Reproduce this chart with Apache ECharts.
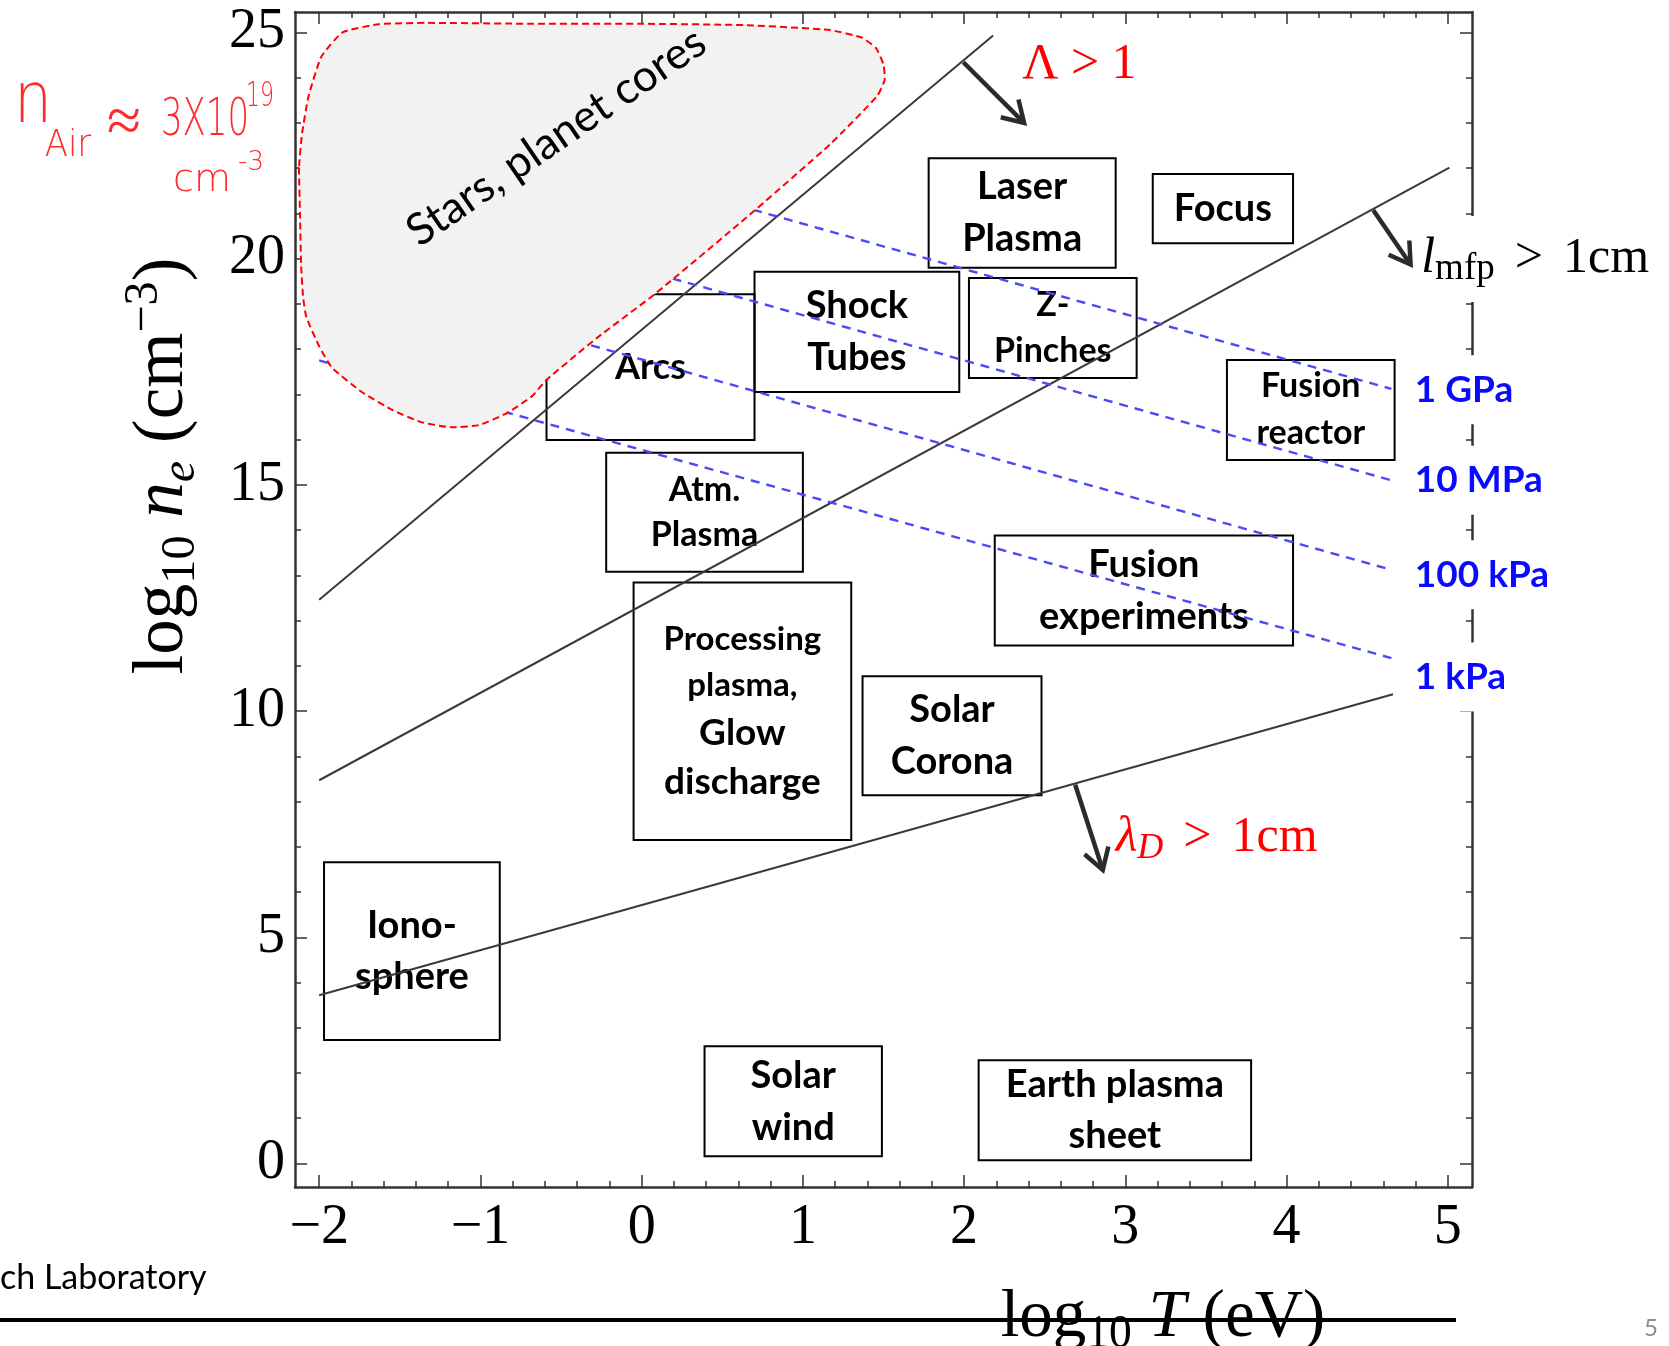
<!DOCTYPE html>
<html><head><meta charset="utf-8">
<script src="https://cdn.jsdelivr.net/npm/echarts@6/dist/echarts.min.js"></script>
<style>html,body{margin:0;padding:0;background:#fff;}#c{width:1669px;height:1346px;}</style>
</head><body><div id="c"></div>
<script>
// ---------- data ----------
const xTickValues = [-2, -1, 0, 1, 2, 3, 4, 5];
const yTickValues = [0, 5, 10, 15, 20, 25];
const xMinorTicks = [];
for (let k = -10; k <= 25; k++) xMinorTicks.push(+(k * 0.2).toFixed(1));
const yMinorTicks = [];
for (let k = 0; k <= 25; k++) yMinorTicks.push(k);

const boxLabels = ['Laser\nPlasma', 'Focus', 'Shock\nTubes', 'Z-\nPinches', 'Arcs', 'Atm.\nPlasma',
  'Processing\nplasma,\nGlow\ndischarge', 'Solar\nCorona', 'Fusion\nreactor', 'Fusion\nexperiments',
  'Iono-\nsphere', 'Solar\nwind', 'Earth plasma\nsheet'];
const boxLeft   = [1.78, 3.17, 0.70, 2.03, -0.59, -0.22, -0.05, 1.37, 3.63, 2.19, -1.97, 0.39, 2.09];
const boxRight  = [2.94, 4.04, 1.97, 3.07, 0.70, 1.00, 1.30, 2.48, 4.67, 4.04, -0.88, 1.49, 3.78];
const boxBottom = [19.80, 20.34, 17.05, 17.36, 15.99, 13.08, 7.15, 8.14, 15.55, 11.45, 2.73, 0.16, 0.07];
const boxTop    = [22.22, 21.87, 19.71, 19.57, 19.21, 15.71, 12.84, 10.77, 17.76, 13.88, 6.66, 2.59, 2.28];

const lambdaLineX = [-2, 2.18];   const lambdaLineY = [12.46, 24.93];
const mfpLineX = [-2, 5.01];      const mfpLineY = [8.47, 22.01];
const debyeLineX = [-2, 0.49, 4.66]; const debyeLineY = [3.72, 6.20, 10.37];

const pressureNames = ['1 GPa', '10 MPa', '100 kPa', '1 kPa'];
const pressureStartX = [0.5, 0.0, -0.6, -2.0];
const pressureStartY = [21.27, 19.75, 18.37, 17.75];
const pressureEndX = [4.65, 4.65, 4.65, 4.65];
const pressureEndY = [17.12, 15.10, 13.12, 11.17];
const pressureLabelX = [4.795, 4.795, 4.795, 4.795];
const pressureLabelY = [17.10, 15.10, 13.01, 10.75];

const starsX = [-2.125, -2.119, -2.112, -2.099, -2.079, -2.0, -1.921, -1.736, -1.544, -1.373, -1.188, -1.009,
  -0.838, -0.679, -0.593, -0.283, 0.080, 0.641, 1.170, 1.460, 1.507, 1.500, 1.454, 1.368, 1.170, 0.641,
  -0.019, -0.679, -1.340, -1.630, -1.855, -1.987, -2.066, -2.106];
const starsY = [22.01, 21.00, 19.83, 19.12, 18.70, 18.06, 17.59, 17.05, 16.65, 16.39, 16.27, 16.32,
  16.58, 16.96, 17.31, 18.23, 19.21, 20.88, 22.53, 23.59, 23.94, 24.29, 24.65, 24.88, 25.05, 25.16,
  25.19, 25.19, 25.21, 25.18, 25.00, 24.46, 23.59, 22.77];
const starsLabel = 'Stars, planet cores';
const starsLabelX = -0.53, starsLabelY = 22.69;

const arrowStartX = [1.995, 4.538, 2.689];
const arrowStartY = [24.34, 21.07, 8.37];
const arrowEndX = [2.372, 4.769, 2.860];
const arrowEndY = [23.00, 19.87, 6.49];

const noteTexts = ['{a|\u039B > 1}', '{i|\u03BB}{s|D}{a|\u2009\u2009>\u2009\u20091cm}', '{i|l}{s|mfp}{a|\u2009\u2009>\u2009\u20091cm}'];
const noteX = [2.36, 2.94, 4.835];
const noteY = [24.29, 7.20, 19.99];

// ---------- styles ----------
const SERIF = 'Liberation Serif';
const SANS = 'Lato';
const boxFont = [38, 38, 38, 34, 36, 34, 0, 38, 34, 38, 38, 38, 38];
const boxLH   = [52, 52, 52, 46, 50, 45, 0, 52, 47, 52, 51, 52, 51];

const chart = echarts.init(document.getElementById('c'), null, {renderer: 'canvas'});

function xAxisCfg(pos, major, showLabel, showLine) {
  return {
    type: 'value', min: -2.15, max: 5.15, position: pos,
    axisLine: {show: showLine, onZero: false, lineStyle: {color: '#333', width: 2.5}},
    axisTick: {show: true, inside: true, length: major ? 12 : 6,
      customValues: major ? xTickValues : xMinorTicks, lineStyle: {color: '#333', width: 1.5}},
    axisLabel: {show: showLabel, customValues: xTickValues, margin: 13, fontFamily: SERIF, fontSize: 56, color: '#000',
      formatter: v => v < 0 ? '\u2212' + Math.abs(v) : String(v)},
    splitLine: {show: false}
  };
}
function yAxisCfg(pos, major, showLabel, showLine) {
  return {
    type: 'value', min: -0.52, max: 25.45, position: pos,
    axisLine: {show: showLine, onZero: false, lineStyle: {color: '#333', width: 2.5}},
    axisTick: {show: true, inside: true, length: major ? 12 : 6,
      customValues: major ? yTickValues : yMinorTicks, lineStyle: {color: '#333', width: 1.5}},
    axisLabel: {show: showLabel, customValues: yTickValues, margin: 10, fontFamily: SERIF, fontSize: 56, color: '#000'},
    splitLine: {show: false}
  };
}

const lineSeries = (xs, ys, style) => ({
  type: 'line', data: xs.map((x, i) => [x, ys[i]]), showSymbol: false, symbol: 'none',
  lineStyle: style, z: 2, silent: true, animation: false
});

const series = [];
series.push(lineSeries(lambdaLineX, lambdaLineY, {color: '#3a3a3a', width: 2}));
series.push(lineSeries(mfpLineX, mfpLineY, {color: '#3a3a3a', width: 2}));
series.push(lineSeries(debyeLineX, debyeLineY, {color: '#3a3a3a', width: 2}));
pressureNames.forEach((n, i) => {
  series.push(lineSeries([pressureStartX[i], pressureEndX[i]], [pressureStartY[i], pressureEndY[i]],
    {color: '#4b4bf5', width: 2.4, type: [9, 7]}));
});

// boxes
series.push({
  type: 'custom', z: 2, clip: false, animation: false,
  data: boxLabels.map((l, i) => [boxLeft[i], boxRight[i], boxBottom[i], boxTop[i]]),
  renderItem(params, api) {
    const i = params.dataIndex;
    const p0 = api.coord([api.value(0), api.value(3)]);
    const p1 = api.coord([api.value(1), api.value(2)]);
    let textStyle;
    if (i === 6) {
      textStyle = {text: '{a|Processing}\n{a|plasma,}\n{b|Glow}\n{b|discharge}', align: 'center', verticalAlign: 'middle',
        rich: {a: {fontFamily: SANS, fontWeight: 'bold', fontSize: 33, lineHeight: 46, fill: '#000'},
               b: {fontFamily: SANS, fontWeight: 'bold', fontSize: 37, lineHeight: 49, fill: '#000'}}};
    } else {
      textStyle = {text: boxLabels[i], fontFamily: SANS, fontWeight: 'bold', fontSize: boxFont[i], lineHeight: boxLH[i],
        fill: '#000', align: 'center', verticalAlign: 'middle'};
    }
    return {type: 'group', children: [
      {type: 'rect', shape: {x: p0[0], y: p0[1], width: p1[0] - p0[0], height: p1[1] - p0[1]},
        style: {fill: 'none', stroke: '#000', lineWidth: 2}},
      {type: 'text', x: (p0[0] + p1[0]) / 2, y: (p0[1] + p1[1]) / 2, style: textStyle}
    ]};
  }
});

// stars region
series.push({
  type: 'custom', z: 3, clip: false, animation: false,
  data: starsX.map((x, i) => [x, starsY[i]]),
  renderItem(params, api) {
    if (params.dataIndex !== 0) return;
    const pts = starsX.map((x, i) => api.coord([x, starsY[i]]));
    const c = api.coord([starsLabelX, starsLabelY]);
    return {type: 'group', children: [
      {type: 'polygon', shape: {points: pts, smooth: 0.15},
        style: {fill: '#f2f2f2', stroke: '#ff0000', lineWidth: 2, lineDash: [7, 4]}},
      {type: 'text', x: c[0], y: c[1], rotation: 0.60,
        style: {text: starsLabel, fontFamily: SANS, fontSize: 44, fill: '#000', align: 'center', verticalAlign: 'middle'}}
    ]};
  }
});

// arrows
series.push({
  type: 'custom', z: 4, clip: false, animation: false,
  data: arrowStartX.map((x, i) => [x, arrowStartY[i], arrowEndX[i], arrowEndY[i]]),
  renderItem(params, api) {
    const a = api.coord([api.value(0), api.value(1)]);
    const b = api.coord([api.value(2), api.value(3)]);
    const dx = b[0] - a[0], dy = b[1] - a[1];
    const L = Math.sqrt(dx * dx + dy * dy), ux = dx / L, uy = dy / L;
    const w = 24, ang = 0.55;
    const cs = Math.cos(ang), sn = Math.sin(ang);
    const w1 = [b[0] - w * (ux * cs - uy * sn), b[1] - w * (uy * cs + ux * sn)];
    const w2 = [b[0] - w * (ux * cs + uy * sn), b[1] - w * (uy * cs - ux * sn)];
    const st = {stroke: '#2b2b2b', lineWidth: 4.5, fill: 'none', lineJoin: 'miter'};
    return {type: 'group', children: [
      {type: 'line', shape: {x1: a[0], y1: a[1], x2: b[0], y2: b[1]}, style: st},
      {type: 'polyline', shape: {points: [w1, b, w2]}, style: st}
    ]};
  }
});

// annotations (criteria)
const noteRich = [
  {a: {fontFamily: SERIF, fontSize: 50, fill: '#ff0000', lineHeight: 58}},
  {a: {fontFamily: SERIF, fontSize: 50, fill: '#ff0000', lineHeight: 58},
   i: {fontFamily: SERIF, fontStyle: 'italic', fontSize: 50, fill: '#ff0000', lineHeight: 58},
   s: {fontFamily: SERIF, fontStyle: 'italic', fontSize: 36, fill: '#ff0000', lineHeight: 34, verticalAlign: 'bottom'}},
  {a: {fontFamily: SERIF, fontSize: 50, fill: '#000', lineHeight: 58},
   i: {fontFamily: SERIF, fontStyle: 'italic', fontSize: 50, fill: '#000', lineHeight: 58},
   s: {fontFamily: SERIF, fontSize: 37, fill: '#000', lineHeight: 34, verticalAlign: 'bottom'}}
];
series.push({
  type: 'custom', z: 5, clip: false, animation: false,
  data: noteTexts.map((t, i) => [noteX[i], noteY[i]]),
  renderItem(params, api) {
    const i = params.dataIndex;
    const p = api.coord([api.value(0), api.value(1)]);
    const style = {text: noteTexts[i], rich: noteRich[i], align: 'left', verticalAlign: 'middle'};
    if (i === 2) { style.backgroundColor = '#fff'; style.padding = [14, 4, 14, 4]; }
    return {type: 'text', x: p[0] - (i === 2 ? 4 : 0), y: p[1], style};
  }
});

// pressure labels
series.push({
  type: 'custom', z: 5, clip: false, animation: false,
  data: pressureNames.map((n, i) => [pressureLabelX[i], pressureLabelY[i]]),
  renderItem(params, api) {
    const i = params.dataIndex;
    const p = api.coord([api.value(0), api.value(1)]);
    return {type: 'text', x: p[0] - 4, y: p[1], style: {
      text: pressureNames[i], fontFamily: SANS, fontWeight: 'bold', fontSize: 37, fill: '#0a0aff',
      align: 'left', verticalAlign: 'middle', backgroundColor: '#fff', padding: [16, 6, 16, 4]}};
  }
});

const richTitle = (size) => ({
  r: {fontFamily: SERIF, fontSize: size, lineHeight: size * 1.2, fill: '#000'},
  i: {fontFamily: SERIF, fontStyle: 'italic', fontSize: size, lineHeight: size * 1.2, fill: '#000'},
  s: {fontFamily: SERIF, fontSize: size * 0.68, lineHeight: size * 0.62, verticalAlign: 'bottom', fill: '#000'},
  is: {fontFamily: SERIF, fontStyle: 'italic', fontSize: size * 0.68, lineHeight: size * 0.62, verticalAlign: 'bottom', fill: '#000'},
  p: {fontFamily: SERIF, fontSize: size * 0.68, lineHeight: size * 0.68, verticalAlign: 'top', fill: '#000'}
});

const hw = {fontFamily: 'DejaVu Sans', fontWeight: 200, fill: '#ff2a2a', align: 'center', verticalAlign: 'middle'};
const hwText = (t, x, y, fs, sy) => ({type: 'text', x, y, z: 10, scaleY: sy, style: Object.assign({text: t, fontSize: fs}, hw)});

chart.setOption({
  animation: false,
  backgroundColor: '#fff',
  grid: {left: 295, top: 12, width: 1177, height: 1175, containLabel: false},
  xAxis: [xAxisCfg('bottom', true, true, true), xAxisCfg('bottom', false, false, false),
          xAxisCfg('top', true, false, true), xAxisCfg('top', false, false, false)],
  yAxis: [yAxisCfg('left', true, true, true), yAxisCfg('left', false, false, false),
          yAxisCfg('right', true, false, true), yAxisCfg('right', false, false, false)],
  series: series,
  graphic: [
    {type: 'text', x: 163, y: 466, rotation: Math.PI / 2, z: 10,
      style: {text: '{r|log}{s|10}{r| }{i|n}{is|e}{r| (cm}{p|\u22123}{r|)}', rich: richTitle(71), align: 'center', verticalAlign: 'middle'}},
    {type: 'text', x: 1163, y: 1318, z: 10,
      style: {text: '{r|log}{s|10}{r| }{i|T}{r| (eV)}', rich: richTitle(67), align: 'center', verticalAlign: 'middle'}},
    {type: 'line', z: 20, shape: {x1: 0, y1: 1320, x2: 1456, y2: 1320}, style: {stroke: '#000', lineWidth: 4}},
    {type: 'text', x: 0, y: 1278, z: 10, style: {text: 'ch Laboratory', fontFamily: SANS, fontSize: 34, fill: '#000', align: 'left', verticalAlign: 'middle'}},
    {type: 'text', x: 1651, y: 1328, z: 10, style: {text: '5', fontFamily: SANS, fontSize: 24, fill: '#8c8c8c', align: 'center', verticalAlign: 'middle'}},
    hwText('n', 33, 103, 60, 1.2),
    hwText('Air', 68, 146, 34, 1.1),
    hwText('\u2248', 124, 125, 62, 1.0),
    hwText('3X10', 205, 122, 34, 1.5),
    hwText('19', 260, 97, 22, 1.5),
    hwText('cm', 202, 181, 38, 1.0),
    hwText('-3', 251, 163, 26, 1.0)
  ]
});
</script></body></html>
